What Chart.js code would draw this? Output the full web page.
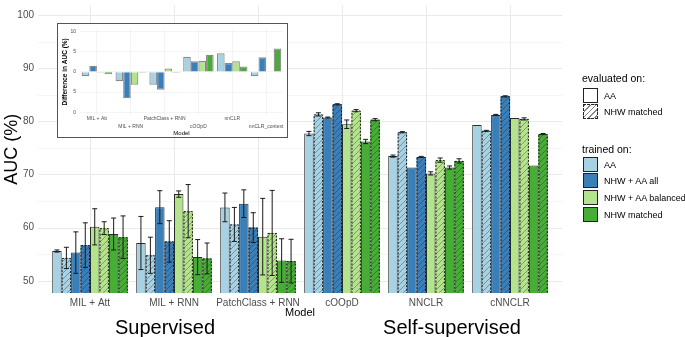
<!DOCTYPE html>
<html>
<head>
<meta charset="utf-8">
<script src="https://cdn.jsdelivr.net/npm/chart.js@4.4.1/dist/chart.umd.min.js"></script>
<style>
  body { margin: 0; background: #fff; font-family: "Liberation Sans", Arial, sans-serif; }
  #wrap { position: relative; width: 685px; height: 337px; overflow: hidden; }
  #main { position: absolute; left: 0; top: 0; }
  #insetBox { position: absolute; left: 57px; top: 23px; width: 231px; height: 115px; background: #fff; }
  #insetBox canvas { position: absolute; left: 0; top: 0; }
  #insetBorder { position: absolute; left: 57px; top: 23px; width: 231px; height: 115px; box-sizing: border-box; border: 1.5px solid #555; pointer-events: none; }
  .big { position: absolute; top: 316px; font-size: 20px; line-height: 22px; color: #000; transform: translateX(-50%); white-space: nowrap; }
  .lg { position: absolute; left: 604px; font-size: 9px; line-height: 10px; color: #000; white-space: nowrap; }
  .lgTitle { position: absolute; left: 582px; font-size: 10.5px; line-height: 12px; color: #000; white-space: nowrap; }
  .key { position: absolute; left: 583px; width: 15px; height: 15px; box-sizing: border-box; border: 1px solid #222; }
</style>
</head>
<body>
<div id="wrap">
  <canvas id="main" width="685" height="337"></canvas>
  <div id="insetBox"><canvas id="insetChart" width="231" height="115"></canvas></div>
  <div id="insetBorder"></div>

  <div class="big" style="left:165px">Supervised</div>
  <div class="big" style="left:452px">Self-supervised</div>

  <div class="lgTitle" style="top:72px">evaluated on:</div>
  <div class="key" style="top:88px;background:#fff"></div>
  <div class="lg" style="top:91px">AA</div>
  <div class="key" style="top:104px;border-style:dashed;background:repeating-linear-gradient(135deg,#888 0 1px,#fff 1px 4px)"></div>
  <div class="lg" style="top:107px">NHW matched</div>

  <div class="lgTitle" style="top:143px">trained on:</div>
  <div class="key" style="top:157px;background:#a6d2e4"></div>
  <div class="lg" style="top:160px">AA</div>
  <div class="key" style="top:173px;background:#3a7fb8"></div>
  <div class="lg" style="top:176px">NHW + AA all</div>
  <div class="key" style="top:190px;background:#b4e38d"></div>
  <div class="lg" style="top:193px">NHW + AA balanced</div>
  <div class="key" style="top:207px;background:#48ad36"></div>
  <div class="lg" style="top:210px">NHW matched</div>
</div>

<script>
// ---- main chart data ----
const categories = ['MIL + Att', 'MIL + RNN', 'PatchClass + RNN', 'cOOpD', 'NNCLR', 'cNNCLR'];

// trained on AA
const aaEvalAA   = [55.6, 57.1, 63.8, 77.7, 73.45, 79.3];
const aaEvalAAErr = [0.2, 5.0, 2.7, 0.4, 0.2, 0.0];
const aaEvalNHW  = [54.3, 54.8, 60.6, 81.3, 77.95, 78.2];
const aaEvalNHWErr = [2.0, 3.4, 3.2, 0.3, 0.1, 0.1];
// trained on NHW + AA all
const allEvalAA  = [55.3, 63.85, 64.5, 80.7, 71.3, 81.2];
const allEvalAAErr = [3.9, 3.1, 2.6, 0.1, 0.0, 0.1];
const allEvalNHW = [56.7, 57.4, 60.0, 83.2, 73.3, 84.7];
const allEvalNHWErr = [4.2, 3.9, 2.8, 0.1, 0.1, 0.1];
// trained on NHW + AA balanced
const balEvalAA  = [60.15, 66.3, 58.3, 79.45, 70.2, 80.6];
const balEvalAAErr = [3.4, 0.6, 7.2, 0.8, 0.3, 0.05];
const balEvalNHW = [59.9, 63.1, 59.0, 82.0, 72.7, 80.45];
const balEvalNHWErr = [1.2, 5.0, 8.0, 0.2, 0.4, 0.2];
// trained on NHW matched
const nhwEvalAA  = [58.8, 54.45, 53.8, 76.2, 71.3, 71.7];
const nhwEvalAAErr = [3.0, 3.3, 4.1, 0.4, 0.3, 0.0];
const nhwEvalNHW = [58.2, 54.2, 53.7, 80.3, 72.55, 77.6];
const nhwEvalNHWErr = [4.0, 2.9, 4.1, 0.2, 0.4, 0.1];

const yTicks = [50, 60, 70, 80, 90, 100];

// ---- inset data ----
const insetCategories = ['MIL + Att', 'MIL + RNN', 'PatchClass + RNN', 'cOOpD', 'nnCLR', 'nnCLR_context'];
const diffAA  = [-1.1, -2.3, -3.2, 3.75, 4.6, -1.1];
const diffAll = [1.5, -6.5, -4.4, 2.6, 2.2, 3.6];
const diffBal = [-0.2, -3.2, 0.8, 2.75, 2.6, -0.1];
const diffNhw = [-0.6, -0.2, -0.2, 4.2, 1.35, 5.8];
const insetYTicks = [-10, -5, 0, 5, 10];
const insetYLabels = ['0', '5', '0', '5', '10'];

const colAA = '#a6d2e4', colAll = '#3a7fb8', colBal = '#b4e38d', colNhw = '#48ad36';

function hatch(bg) {
  const c = document.createElement('canvas');
  c.width = 6; c.height = 6;
  const g = c.getContext('2d');
  g.fillStyle = bg; g.fillRect(0, 0, 6, 6);
  g.strokeStyle = 'rgba(30,30,30,0.45)';
  g.lineWidth = 0.8;
  g.beginPath();
  g.moveTo(0, 6); g.lineTo(6, 0);
  g.moveTo(-1, 1); g.lineTo(1, -1);
  g.moveTo(5, 7); g.lineTo(7, 5);
  g.stroke();
  return g.createPattern(c, 'repeat');
}

function solid(label, data, err, color) {
  return { label, data, err, hatched: false, backgroundColor: color, borderColor: '#2a2a2a', borderWidth: 1 };
}
function hatched(label, data, err, color) {
  return { label, data, err, hatched: true, backgroundColor: hatch(color), borderWidth: 0 };
}

// no extra label padding on the axes, the boxes are sized by hand
function noPad(s) { s.paddingTop = 0; s.paddingBottom = 0; s.paddingLeft = 0; s.paddingRight = 0; }

const mainPlugin = {
  id: 'mainExtras',
  beforeDatasetsDraw(chart) {
    const ctx = chart.ctx, y = chart.scales.y, x = chart.scales.x, a = chart.chartArea;
    ctx.save();
    for (let v = 50; v <= 100; v += 5) {
      const py = Math.round(y.getPixelForValue(v)) + 0.5;
      ctx.strokeStyle = v % 10 === 0 ? '#e9e9e9' : '#f3f3f3';
      ctx.lineWidth = v % 10 === 0 ? 1 : 0.8;
      ctx.beginPath(); ctx.moveTo(38, py); ctx.lineTo(562, py); ctx.stroke();
    }
    categories.forEach((c, i) => {
      const px = Math.round(x.getPixelForValue(i)) + 0.5;
      ctx.strokeStyle = '#e9e9e9'; ctx.lineWidth = 1;
      ctx.beginPath(); ctx.moveTo(px, a.top); ctx.lineTo(px, a.bottom); ctx.stroke();
    });
    ctx.restore();
  },
  afterDatasetsDraw(chart) {
    const ctx = chart.ctx, y = chart.scales.y, a = chart.chartArea;
    ctx.save();
    ctx.beginPath(); ctx.rect(a.left - 10, a.top, a.right - a.left + 20, a.bottom - a.top); ctx.clip();
    chart.data.datasets.forEach((ds, di) => {
      const meta = chart.getDatasetMeta(di);
      meta.data.forEach((bar, i) => {
        if (ds.hatched) {
          const left = bar.x - bar.width / 2;
          ctx.setLineDash([2, 1.5]);
          ctx.strokeStyle = '#1a1a1a'; ctx.lineWidth = 1;
          ctx.strokeRect(left + 0.5, bar.y + 0.5, bar.width - 1, bar.base - bar.y + 2);
          ctx.setLineDash([]);
        }
        const e = ds.err[i];
        if (e > 0.05) {
          const t = y.getPixelForValue(ds.data[i] + e), b = y.getPixelForValue(ds.data[i] - e);
          ctx.strokeStyle = '#1a1a1a'; ctx.lineWidth = 1;
          ctx.beginPath();
          ctx.moveTo(bar.x, t); ctx.lineTo(bar.x, b);
          ctx.moveTo(bar.x - 2.5, t); ctx.lineTo(bar.x + 2.5, t);
          ctx.moveTo(bar.x - 2.5, b); ctx.lineTo(bar.x + 2.5, b);
          ctx.stroke();
        }
      });
    });
    ctx.restore();
  }
};

new Chart(document.getElementById('main'), {
  type: 'bar',
  data: {
    labels: categories,
    datasets: [
      solid('AA / AA', aaEvalAA, aaEvalAAErr, colAA),
      hatched('AA / NHW matched', aaEvalNHW, aaEvalNHWErr, colAA),
      solid('NHW + AA all / AA', allEvalAA, allEvalAAErr, colAll),
      hatched('NHW + AA all / NHW matched', allEvalNHW, allEvalNHWErr, colAll),
      solid('NHW + AA balanced / AA', balEvalAA, balEvalAAErr, colBal),
      hatched('NHW + AA balanced / NHW matched', balEvalNHW, balEvalNHWErr, colBal),
      solid('NHW matched / AA', nhwEvalAA, nhwEvalAAErr, colNhw),
      hatched('NHW matched / NHW matched', nhwEvalNHW, nhwEvalNHWErr, colNhw)
    ]
  },
  options: {
    responsive: false,
    animation: false,
    layout: { padding: { top: 5.4, right: 133, left: 0, bottom: 0 } },
    datasets: { bar: { categoryPercentage: 0.9, barPercentage: 1.0 } },
    plugins: { legend: { display: false }, tooltip: { enabled: false } },
    scales: {
      x: {
        grid: { display: false, drawTicks: false },
        border: { display: false },
        ticks: { color: '#4d4d4d', font: { size: 10, family: 'Liberation Sans' }, padding: 4, maxRotation: 0, autoSkip: false },
        title: { display: true, text: 'Model', color: '#000', font: { size: 11, family: 'Liberation Sans' }, padding: { top: 0, bottom: 17 } },
        afterFit(s) { s.height = 44; noPad(s); }
      },
      y: {
        min: 47.7, max: 101.8,
        grid: { display: false, drawTicks: false },
        border: { display: false },
        afterBuildTicks(s) { s.ticks = yTicks.map(v => ({ value: v })); },
        ticks: { color: '#4d4d4d', font: { size: 10, family: 'Liberation Sans' }, padding: 14 },
        title: { display: true, text: 'AUC (%)', color: '#000', font: { size: 18, family: 'Liberation Sans' }, padding: { top: 1, bottom: 0 } },
        afterFit(s) { s.width = 48; noPad(s); }
      }
    }
  },
  plugins: [mainPlugin]
});

// ---- inset ----
const insetBorder = '#8a8a8a';
new Chart(document.getElementById('insetChart'), {
  type: 'bar',
  data: {
    labels: insetCategories,
    datasets: [
      { label: 'AA', data: diffAA, backgroundColor: colAA, borderColor: insetBorder, borderWidth: 1.2 },
      { label: 'NHW + AA all', data: diffAll, backgroundColor: colAll, borderColor: insetBorder, borderWidth: 1.2 },
      { label: 'NHW + AA balanced', data: diffBal, backgroundColor: colBal, borderColor: insetBorder, borderWidth: 1.2 },
      { label: 'NHW matched', data: diffNhw, backgroundColor: colNhw, borderColor: insetBorder, borderWidth: 1.2 }
    ]
  },
  options: {
    responsive: false,
    animation: false,
    layout: { padding: { top: 6, right: 5, left: 0, bottom: 0 } },
    datasets: { bar: { categoryPercentage: 0.9, barPercentage: 1.0 } },
    plugins: { legend: { display: false }, tooltip: { enabled: false } },
    scales: {
      x: {
        grid: { color: '#efefef', lineWidth: 0.7, offset: false, drawTicks: false },
        border: { display: false },
        ticks: {
          color: '#4d4d4d', font: { size: 5, family: 'Liberation Sans', lineHeight: 1.6 }, padding: 0, maxRotation: 0, autoSkip: false,
          callback(v, i) { return i % 2 === 0 ? [insetCategories[i], ''] : ['', insetCategories[i]]; }
        },
        title: { display: true, text: 'Model', color: '#000', font: { size: 6, family: 'Liberation Sans' }, padding: { top: 0, bottom: 1.5 } },
        afterFit(s) { s.height = 23.3; noPad(s); }
      },
      y: {
        min: -10.6, max: 10.6,
        grid: { color: '#efefef', lineWidth: 0.7, drawTicks: false },
        border: { display: false },
        afterBuildTicks(s) { s.ticks = insetYTicks.map(v => ({ value: v })); },
        ticks: {
          color: '#4d4d4d', font: { size: 5, family: 'Liberation Sans' }, padding: 4,
          callback(v) { return insetYLabels[insetYTicks.indexOf(v)]; }
        },
        title: { display: true, text: 'Difference in AUC (%)', color: '#000', font: { size: 6.5, weight: 'bold', family: 'Liberation Sans' }, padding: { top: 4.5, bottom: 0 } },
        afterFit(s) { s.width = 23; noPad(s); }
      }
    }
  }
});
</script>
</body>
</html>
